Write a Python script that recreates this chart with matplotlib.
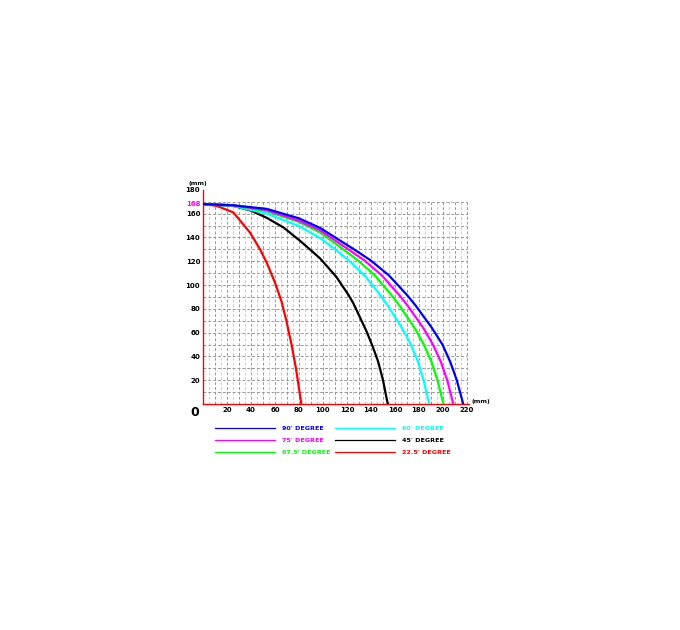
import matplotlib
matplotlib.use("Agg")
import matplotlib.pyplot as plt
from matplotlib.lines import Line2D
import numpy as np

# curves (x, y in mm)
blue_x = [0, 25, 53, 80, 97.5, 125, 140, 155, 170, 177, 191, 199.5, 206, 211.5, 215.6, 216.8]
blue_y = [168, 167, 164, 156, 148, 130.5, 120.5, 108, 91.6, 83, 63.6, 50, 35.5, 20, 4.8, 0]
magenta_x = [0, 25, 53, 80, 97.5, 120.3, 134.7, 149.1, 163.5, 170.3, 183.8, 191.6, 198.2, 203.5, 207.4, 208.5]
magenta_y = [168, 167, 163, 154, 146, 130.5, 120.5, 108, 91.6, 83, 63.6, 50, 35.5, 20, 4.8, 0]
green_x = [0, 25, 53, 80, 97.5, 115.5, 129.4, 143.2, 157, 163.5, 176.5, 184, 190.4, 195.4, 199.2, 200.5]
green_y = [168, 167, 162, 153, 144.2, 131, 120.5, 108, 91.6, 83, 63.6, 50, 35.5, 20, 4.8, 0]
cyan_x = [0, 25, 53, 80, 97.5, 108.6, 121.7, 134.7, 147.7, 153.8, 166, 173.2, 179.2, 183.8, 187.4, 188.5]
cyan_y = [168, 166.5, 160, 149.5, 139.5, 131.2, 120.5, 108, 91.6, 83, 63.6, 50, 35.5, 20, 4.8, 0]
black_x = [0, 25.3, 40, 53, 67, 81, 89, 97.5, 111, 121, 125.3, 136.4, 141.5, 146, 150, 153, 154]
black_y = [168, 166.5, 162.5, 156.5, 148.4, 137, 130, 122.4, 107, 92, 84.6, 60.8, 48, 35.5, 20, 4.8, 0]
red_x = [0, 11.4, 25.3, 39.2, 47.5, 53, 60, 65.6, 69.7, 73.9, 77.5, 80, 82]
red_y = [168, 166.5, 161, 144, 130, 119, 102, 85.6, 69, 49.4, 29.8, 13, 0]

curves = [
    (blue_x, blue_y, "#0000ff", "90' DEGREE"),
    (magenta_x, magenta_y, "#ff00ff", "75' DEGREE"),
    (green_x, green_y, "#00ff00", "67.5' DEGREE"),
    (cyan_x, cyan_y, "#00ffff", "60' DEGREE"),
    (black_x, black_y, "#000000", "45' DEGREE"),
    (red_x, red_y, "#ff0000", "22.5' DEGREE"),
]

x_ticks = list(range(20, 221, 20))
y_ticks = list(range(20, 181, 20))

fig = plt.figure(figsize=(6.8, 6.3), dpi=100)
ax = fig.add_axes([203 / 680, 226 / 630, 266.4 / 680, 214.2 / 630])

# grid
for gx in np.arange(5, 221, 5):
    c = "#999999" if gx % 10 == 0 else "#cccccc"
    ax.plot([gx, gx], [0, 170], color=c, lw=0.7, ls=(0, (3, 2)), zorder=1)
for gy in np.arange(10, 171, 10):
    ax.plot([0, 220], [gy, gy], color="#999999", lw=0.7, ls=(0, (3, 2)), zorder=1)

for xs, ys, col, lab in curves[::-1]:
    ax.plot(xs, ys, color=col, lw=1.6, zorder=3, solid_joinstyle="round")

ax.set_xlim(0, 222)
ax.set_ylim(0, 180)
for s in ["top", "right"]:
    ax.spines[s].set_visible(False)
for s in ["left", "bottom"]:
    ax.spines[s].set_color("#ff0000")
    ax.spines[s].set_linewidth(1.0)
ax.set_xticks(x_ticks)
ax.set_yticks(y_ticks)
ax.tick_params(length=0, labelsize=5, pad=2)
for t in ax.get_xticklabels() + ax.get_yticklabels():
    t.set_fontweight("bold")

ax.text(-2, 168, "168", color="#ff00ff", fontsize=5, fontweight="bold",
        ha="right", va="center")
ax.text(-12, 183, "(mm)", fontsize=4.5, fontweight="bold", ha="left", va="bottom")
ax.text(224, 0, "(mm)", fontsize=4.5, fontweight="bold", ha="left", va="bottom")
ax.text(-3, -2, "0", fontsize=9, fontweight="bold", ha="right", va="top")

# legend
rows = [428, 440, 452]
for i, (xs, ys, col, lab) in enumerate(curves):
    col_i = i // 3
    row_i = i % 3
    x0 = 215 if col_i == 0 else 335
    yy = 1 - rows[row_i] / 630
    fig.add_artist(Line2D([x0 / 680, (x0 + 60) / 680], [yy, yy], color=col, lw=0.9))
    fig.text((x0 + 67) / 680, yy, lab, color=col, fontsize=4.6, fontweight="bold",
             ha="left", va="center")

fig.savefig("out.png", dpi=100)
